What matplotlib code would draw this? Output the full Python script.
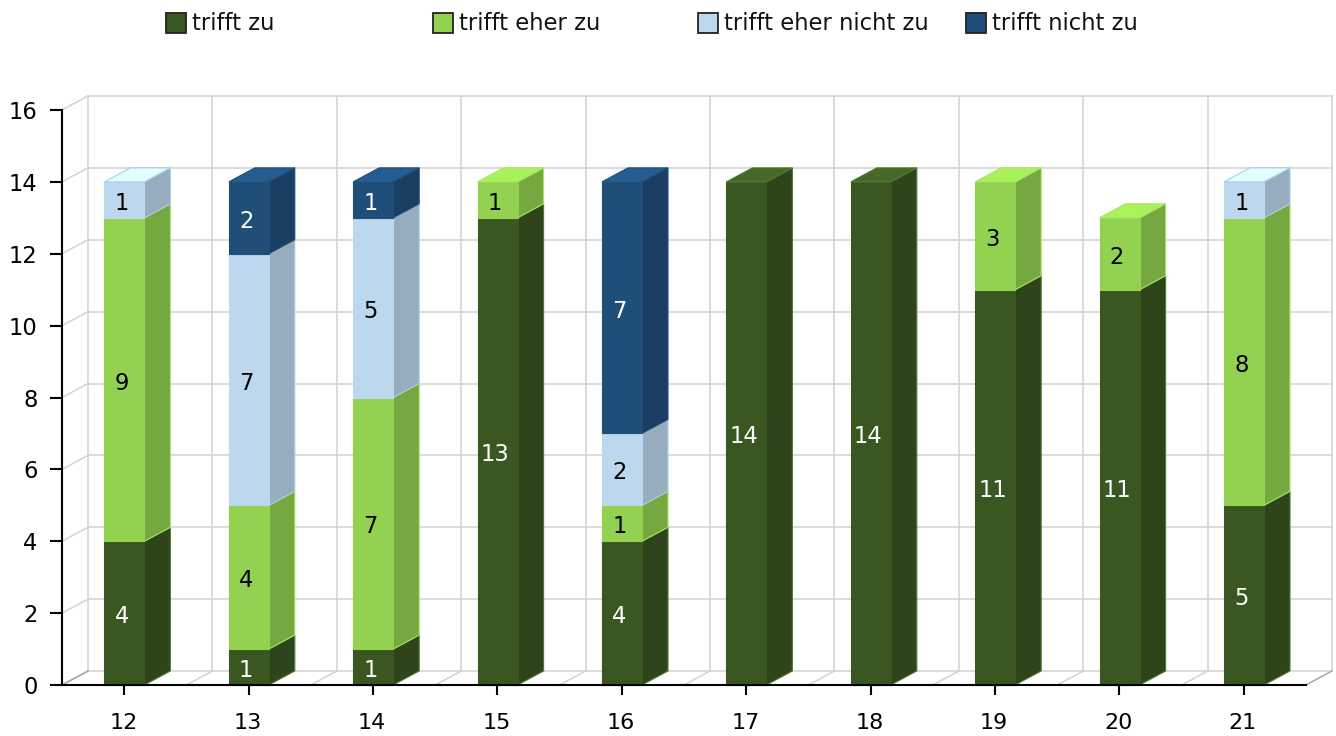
import matplotlib
matplotlib.use("Agg")
import matplotlib.pyplot as plt
from matplotlib.patches import Polygon, Rectangle
from matplotlib.transforms import ScaledTranslation

categories = ["12", "13", "14", "15", "16", "17", "18", "19", "20", "21"]
trifft_zu = [4, 1, 1, 13, 4, 14, 14, 11, 11, 5]
eher_zu = [9, 4, 7, 1, 1, 0, 0, 3, 2, 8]
eher_nicht_zu = [1, 7, 5, 0, 2, 0, 0, 0, 0, 1]
nicht_zu = [0, 2, 1, 0, 7, 0, 0, 0, 0, 0]

names = ["trifft zu", "trifft eher zu", "trifft eher nicht zu", "trifft nicht zu"]
series = [trifft_zu, eher_zu, eher_nicht_zu, nicht_zu]
# front, side, top, edge, label colour
colors = [
    ("#3A5722", "#2E451B", "#466829", "#4F7A2E", "white"),
    ("#92D250", "#75A840", "#A9F25C", "#A5E85C", "black"),
    ("#BDD7EE", "#97ACBF", "#E2FFFF", "#A9CDEB", "black"),
    ("#1F4E79", "#1A3F62", "#245D91", "#1F4E79", "white"),
]

W, H = 1336, 736
fig = plt.figure(figsize=(W / 100, H / 100), dpi=100)
ax = fig.add_axes([62 / W, 1 - 685 / H, (1306 - 62) / W, (685 - 110) / H])
ax.set_xlim(-0.5, 9.5)
ax.set_ylim(0, 16)

# depth of the fake 3d in data units
dx = 26 / 124.4
dy = 14 / 35.94
bw = 40 / 124.4
shift = 0.2 / 124.4

grid = "#D2D2D2"
for v in range(0, 17, 2):
    ax.plot([-0.5 + dx, 9.5 + dx], [v + dy, v + dy], color=grid, lw=1.1, clip_on=False, zorder=1)
    ax.plot([-0.5, -0.5 + dx], [v, v + dy], color=grid, lw=1.1, clip_on=False, zorder=1)
for k in range(11):
    ax.plot([k - 0.5 + dx, k - 0.5 + dx], [dy, 16 + dy], color=grid, lw=1.1, clip_on=False, zorder=1)
    c = "#A6A6A6" if k in (0, 10) else grid
    ax.plot([k - 0.5, k - 0.5 + dx], [0, dy], color=c, lw=1.1, clip_on=False, zorder=1)


def poly(pts, color, edge, z):
    ax.add_patch(Polygon(pts, closed=True, facecolor=color, edgecolor=edge, lw=0.8,
                         clip_on=False, zorder=z))


for i in range(len(categories)):
    x0 = i - bw / 2 + shift
    x1 = i + bw / 2 + shift
    base = 0
    last = max(j for j in range(4) if series[j][i] > 0)
    for j in range(4):
        val = series[j][i]
        if val == 0:
            continue
        front, side, top, edge, txt = colors[j]
        y0, y1 = base, base + val
        poly([(x1, y0), (x1 + dx, y0 + dy), (x1 + dx, y1 + dy), (x1, y1)], side, edge, 3 + j)
        poly([(x0, y0), (x1, y0), (x1, y1), (x0, y1)], front, front, 3 + j)
        if j == last:
            poly([(x0, y1), (x1, y1), (x1 + dx, y1 + dy), (x0 + dx, y1 + dy)], top, edge, 3 + j)
        ax.annotate(str(val), (i, (y0 + y1) / 2), xytext=(-1.8, -2.5), textcoords="offset points",
                    ha="center", va="center", fontsize=16.3, color=txt, zorder=10,
                    annotation_clip=False)
        base = y1

for s in ("top", "right"):
    ax.spines[s].set_visible(False)
for s in ("left", "bottom"):
    ax.spines[s].set_linewidth(1.5)
    ax.spines[s].set_zorder(20)

ax.patch.set_alpha(0)
ax.set_xticks(range(len(categories)), categories)
ax.set_yticks(range(0, 17, 2))
ax.tick_params(axis="x", length=7.2, width=1.5, pad=13, labelsize=16)
ax.tick_params(axis="y", length=8.6, width=1.5, pad=9, labelsize=16.3)

# tick labels sit a pixel left of the ticks
nudge = ScaledTranslation(-1 / 100, 0, fig.dpi_scale_trans)
for lbl in ax.get_xticklabels():
    lbl.set_transform(lbl.get_transform() + nudge)

# legend
for n, name in enumerate(names):
    lx = [166, 433, 698, 966][n]
    fig.add_artist(Rectangle((lx / W, 1 - 33 / H), 20 / W, 20 / H, transform=fig.transFigure,
                             facecolor=colors[n][0], edgecolor="#222222", lw=1.3))
    fig.text((lx + 26) / W, 1 - 23 / H, name, ha="left", va="center", fontsize=16.3, color="#111111")

fig.savefig("out.png", dpi=100)
